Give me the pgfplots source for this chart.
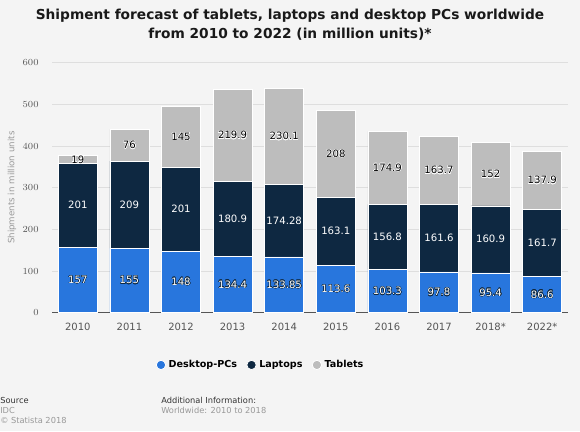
\documentclass[border=0pt]{standalone}
\usepackage{pgfplots}
\pgfplotsset{compat=1.18}
\usepackage{pgfplotstable}
\usepackage{fontspec}
\setmainfont{DejaVu Sans}
\usepackage[copies]{contour}
\contourlength{0.3pt}
\contournumber{16}
\definecolor{bg}{HTML}{F4F4F4}
\definecolor{desk}{HTML}{2876DD}
\definecolor{lap}{HTML}{0E2841}
\definecolor{tab}{HTML}{BDBDBD}
\definecolor{gridc}{HTML}{DEDEDE}
\definecolor{tickc}{HTML}{555555}
\definecolor{lightc}{HTML}{999999}

\pgfplotstableread{
x d l t
0 157 201 19
1 155 209 76
2 148 201 145
3 134.4 180.9 219.9
4 133.85 174.28 230.1
5 113.6 163.1 208
6 103.3 156.8 174.9
7 97.8 161.6 163.7
8 95.4 160.9 152
9 86.6 161.7 137.9
}\data

\pgfplotsset{
  common/.style={
    at={(39pt,88.725pt)}, anchor=south west,
    width=387pt, height=187.5pt, scale only axis,
    xmin=-0.5, xmax=9.5, ymin=0, ymax=600,
  },
  lbl/.style={only marks, mark=none, point meta=explicit symbolic,
    nodes near coords={\contour{#1}{\pgfplotspointmeta}},
    every node near coord/.append style={anchor=center, font=\fontsize{7.6}{8}\selectfont}},
}

\begin{document}
\begin{tikzpicture}[x=0.75pt,y=0.75pt]
\fill[bg] (0,0) rectangle (580,431);
\useasboundingbox (0,0) rectangle (580,431);

\node[font=\bfseries\fontsize{10.3}{14.25}\selectfont, align=center, text=black!90] at (290,406.5)
  {Shipment forecast of tablets, laptops and desktop PCs worldwide\\from 2010 to 2022 (in million units)*};

\begin{axis}[common,
  ybar stacked, bar width=29.25pt,
  axis x line*=bottom, axis y line*=left,
  y axis line style={draw=none},
  x axis line style={draw=tickc, line width=0.8pt},
  xtick={0,...,9},
  xticklabels={2010,2011,2012,2013,2014,2015,2016,2017,2018*,2022*},
  ytick={0,100,...,600},
  major tick length=0pt,
  tick style={draw=none},
  ymajorgrids, grid style={gridc, line width=0.5pt},
  xticklabel style={font=\fontsize{7.5}{9}\selectfont, text=tickc, yshift=-4pt},
  yticklabel style={font=\fontsize{7.5}{9}\selectfont, text=tickc, xshift=-6.5pt},
  ylabel={Shipments in million units},
  ylabel style={at={(axis description cs:-0.0775,0.5)}, anchor=center, font=\fontsize{6.5}{8}\selectfont, text=lightc},
  legend style={at={(axis description cs:0.405,-0.209)}, anchor=center, draw=none, fill=none,
    legend columns=3, font=\bfseries\fontsize{7.2}{9}\selectfont,
    /tikz/every even column/.append style={column sep=5pt}},
  legend image code/.code={\fill[#1] (0.14cm,0cm) circle (3.5pt);},
]
\addplot[fill=desk, draw=white, line width=0.6pt] table[x=x,y=d] {\data};
\addplot[fill=lap, draw=white, line width=0.6pt] table[x=x,y=l] {\data};
\addplot[fill=tab, draw=white, line width=0.6pt] table[x=x,y=t] {\data};
\legend{Desktop-PCs,Laptops,Tablets}
\end{axis}

\begin{axis}[common, hide axis, clip=false]
\addplot[lbl=lap, every node near coord/.append style={text=white}] table[x=x, y expr=\thisrow{d}/2, meta=d] {\data};
\addplot[lbl=lap, every node near coord/.append style={text=white}] table[x=x, y expr=\thisrow{d}+\thisrow{l}/2, meta=l] {\data};
\addplot[lbl=white, every node near coord/.append style={text=black}] table[x=x, y expr=\thisrow{d}+\thisrow{l}+\thisrow{t}/2, meta=t] {\data};
\end{axis}

\begin{scope}[font=\fontsize{6.2}{7.5}\selectfont]
\node[anchor=west, inner sep=0, text=black!80] at (0,31) {Source};
\node[anchor=west, inner sep=0, text=lightc] at (0,21) {IDC};
\node[anchor=west, inner sep=0, text=lightc] at (0,11) {\textcopyright{} Statista 2018};
\node[anchor=west, inner sep=0, text=black!80] at (161,31) {Additional Information:};
\node[anchor=west, inner sep=0, text=lightc] at (161,21) {Worldwide: 2010 to 2018};
\end{scope}
\end{tikzpicture}
\end{document}
